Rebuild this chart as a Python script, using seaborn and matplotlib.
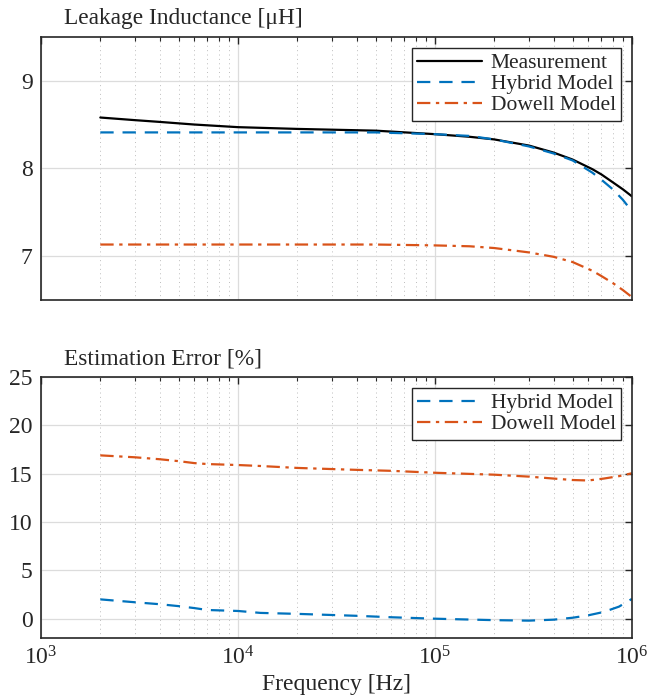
import matplotlib
matplotlib.use("Agg")
import matplotlib.pyplot as plt
import matplotlib.ticker as ticker
import seaborn as sns
import numpy as np
import pandas as pd

# Top panel: leakage inductance [uH] vs frequency
freq_top = [2e3, 3e3, 4e3, 6e3, 1e4, 2e4, 5e4, 1e5, 1.5e5, 2e5, 3e5, 4e5, 5e5, 6.3e5, 7e5, 8e5, 9e5, 1e6]
measurement = [8.58, 8.55, 8.53, 8.50, 8.47, 8.45, 8.43, 8.39, 8.36, 8.33, 8.26, 8.18, 8.10, 7.99, 7.93, 7.84, 7.76, 7.68]
hybrid_L = [8.41, 8.41, 8.41, 8.41, 8.41, 8.41, 8.41, 8.39, 8.37, 8.33, 8.25, 8.17, 8.09, 7.95, 7.87, 7.76, 7.64, 7.51]
dowell_L = [7.13, 7.13, 7.13, 7.13, 7.13, 7.13, 7.13, 7.12, 7.11, 7.09, 7.04, 6.99, 6.93, 6.83, 6.77, 6.69, 6.61, 6.53]

# Bottom panel: estimation error [%]
freq_err = [2e3, 3e3, 4e3, 5e3, 6e3, 7e3, 1e4, 1.3e4, 2e4, 4e4, 6e4, 1e5, 2e5, 3e5, 4e5, 5e5, 6e5, 7.2e5, 8.6e5, 1e6]
hybrid_err = [2.0, 1.7, 1.5, 1.3, 1.1, 0.9, 0.8, 0.6, 0.5, 0.3, 0.15, 0.0, -0.15, -0.2, -0.1, 0.1, 0.35, 0.7, 1.25, 2.05]
dowell_err = [16.9, 16.7, 16.5, 16.3, 16.1, 16.0, 15.9, 15.8, 15.6, 15.4, 15.3, 15.1, 14.9, 14.7, 14.5, 14.35, 14.3, 14.5, 14.75, 15.05]

blue = "#0072BD"
orange = "#D95319"

sns.set_style("white")
plt.rcParams['font.family'] = ['Liberation Serif', 'DejaVu Serif']
plt.rcParams['mathtext.fontset'] = 'custom'
plt.rcParams['mathtext.rm'] = 'Liberation Serif'
plt.rcParams['mathtext.it'] = 'Liberation Serif:italic'

top_df = pd.DataFrame({"f": freq_top, "meas": measurement, "hyb": hybrid_L, "dow": dowell_L})
err_df = pd.DataFrame({"f": freq_err, "hyb": hybrid_err, "dow": dowell_err})

fig = plt.figure(figsize=(6.68, 6.97), dpi=100)
ax1 = fig.add_axes([0.0614, 0.570, 0.8846, 0.377])
ax2 = fig.add_axes([0.0614, 0.0846, 0.8846, 0.3744])

sns.lineplot(data=top_df, x="f", y="meas", ax=ax1, color="black", lw=1.6, label="Measurement")
sns.lineplot(data=top_df, x="f", y="hyb", ax=ax1, color=blue, lw=1.6, label="Hybrid Model")
sns.lineplot(data=top_df, x="f", y="dow", ax=ax1, color=orange, lw=1.6, label="Dowell Model")
ax1.lines[1].set_dashes([6, 4])
ax1.lines[2].set_dashes([6, 2.5, 1.5, 2.5])

sns.lineplot(data=err_df, x="f", y="hyb", ax=ax2, color=blue, lw=1.6, label="Hybrid Model")
sns.lineplot(data=err_df, x="f", y="dow", ax=ax2, color=orange, lw=1.6, label="Dowell Model")
ax2.lines[0].set_dashes([6, 4])
ax2.lines[1].set_dashes([6, 2.5, 1.5, 2.5])

for ax in (ax1, ax2):
    ax.set_xscale("log")
    ax.set_xlim(1e3, 1e6)
    ax.xaxis.set_minor_locator(ticker.LogLocator(base=10, subs=np.arange(2, 10)))
    ax.xaxis.set_minor_formatter(ticker.NullFormatter())
    ax.grid(True, which="major", color="#dcdcdc", lw=0.9)
    ax.grid(True, which="minor", axis="x", color="#bdbdbd", lw=0.7, ls=(0, (1, 3.5)))
    ax.tick_params(which="both", direction="in", top=True, right=True, labelsize=17, colors="#262626")
    ax.tick_params(which="major", length=5, width=1, pad=6)
    ax.tick_params(which="minor", length=3, width=0.8)
    for s in ax.spines.values():
        s.set_color("#262626")
        s.set_linewidth(1.2)
    ax.set_ylabel("")
    leg = ax.legend(loc="upper right", fontsize=15.5, frameon=True, fancybox=False,
                    edgecolor="#262626", framealpha=1, handlelength=3.0, borderpad=0.25,
                    labelspacing=0.05, handletextpad=0.4, borderaxespad=0.5)
    leg.get_frame().set_linewidth(1.0)

ax1.set_ylim(6.5, 9.5)
ax1.set_yticks([7, 8, 9])
ax1.set_xlabel("")
ax1.set_xticklabels([])
ax1.text(0.039, 1.03, "Leakage Inductance [μH]", transform=ax1.transAxes, fontsize=16.8, color="#262626", va="bottom")

ax2.set_ylim(-2, 25)
ax2.set_yticks([0, 5, 10, 15, 20, 25])
ax2.set_xlabel("Frequency [Hz]", fontsize=17, color="#262626", labelpad=3)
ax2.text(0.039, 1.03, "Estimation Error [%]", transform=ax2.transAxes, fontsize=16.8, color="#262626", va="bottom")

fig.savefig("out.png", dpi=100)
